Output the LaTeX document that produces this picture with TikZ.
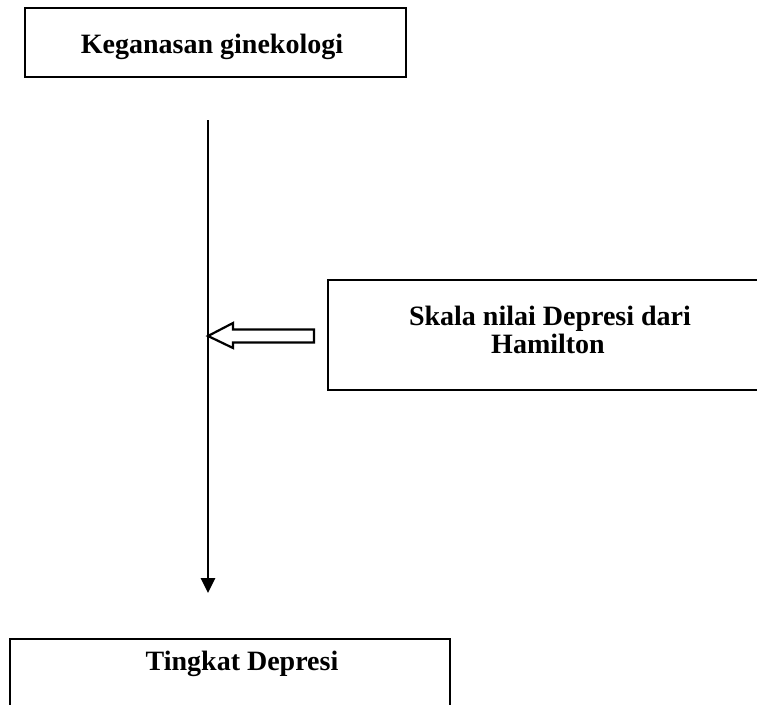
\documentclass[tikz,border=0pt]{standalone}
\usepackage{fontspec}
\setmainfont{Liberation Serif}
\usetikzlibrary{arrows.meta,positioning}
\tikzset{framebox/.style={rectangle,draw=black,line width=2.5pt,fill=none,inner sep=0pt},boxtext/.style={anchor=base,inner sep=0pt,font=\bfseries\fontsize{28}{30}\selectfont},flowline/.style={draw=black,line width=2.7pt,-{Triangle[length=15pt,width=14pt]}},hollowarrow/.style={draw=black,line width=2.2pt,line join=miter,fill=white}}

\begin{document}
\begin{tikzpicture}[x=1pt,y=-1pt]
\useasboundingbox (0,0) rectangle (757,704);
\node[framebox,minimum width=381pt,minimum height=69pt] (cancer) at (215.5,42.5) {};
\node[boxtext] (cancerText) at (212,53) {Keganasan ginekologi};
\node[framebox,minimum width=444pt,minimum height=110pt] (scale) at (550,335) {};
\node[boxtext] (scaleTextA) at (550,325) {Skala nilai Depresi dari};
\node[boxtext] (scaleTextB) at (548,353) {Hamilton};
\node[framebox,minimum width=440pt,minimum height=91pt] (level) at (230,684.5) {};
\node[boxtext] (levelText) at (242,670) {Tingkat Depresi};
\coordinate (lineTop) at (208,120);
\coordinate (lineEnd) at (208,593);
\draw[flowline] (lineTop) -- (lineEnd);
\coordinate (arrowTip) at (208,336);
\draw[hollowarrow] (arrowTip) -- (233,323) -- (233,329.5) -- (314,329.5) -- (314,342.5) -- (233,342.5) -- (233,348) -- cycle;
\end{tikzpicture}
\end{document}
